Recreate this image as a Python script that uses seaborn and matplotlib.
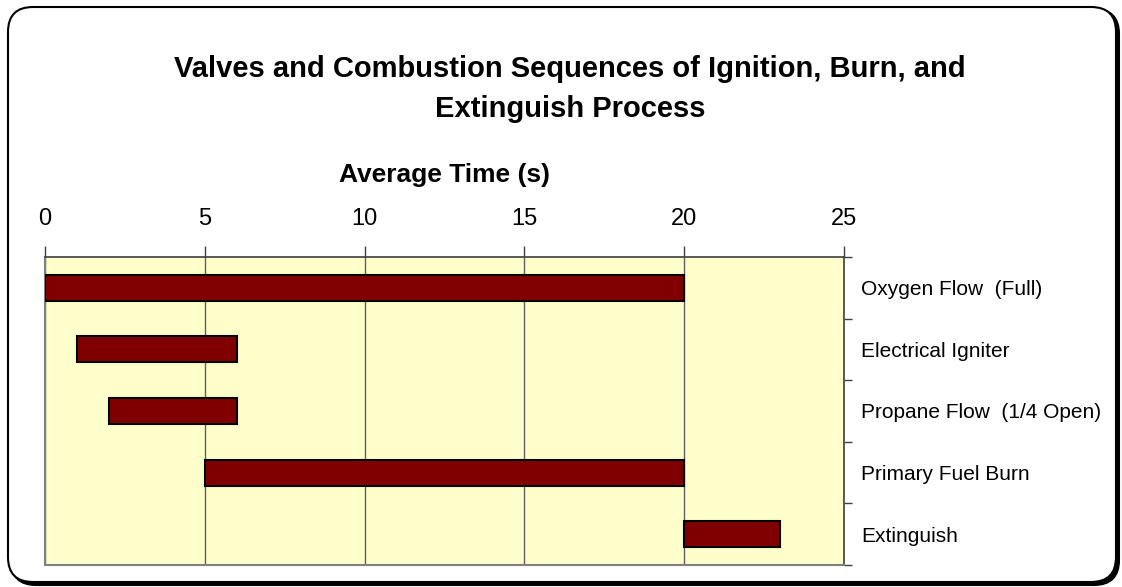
import matplotlib
matplotlib.use("Agg")
import matplotlib.pyplot as plt
import seaborn as sns
import pandas as pd
import numpy as np
from matplotlib.patches import FancyBboxPatch

# ---- data ----
categories = ["Oxygen Flow  (Full)", "Electrical Igniter", "Propane Flow  (1/4 Open)",
              "Primary Fuel Burn", "Extinguish"]
start_times = [0, 1, 2, 5, 20]
end_times = [20, 6, 6, 20, 23]
x_ticks = [0, 5, 10, 15, 20, 25]
title = "Valves and Combustion Sequences of Ignition, Burn, and\nExtinguish Process"
x_label = "Average Time (s)"

sns.set_style("white")
plt.rcParams['font.family'] = ['Liberation Sans', 'DejaVu Sans']
plt.rcParams['text.color'] = 'black'
plt.rcParams['axes.labelcolor'] = 'black'
plt.rcParams['xtick.color'] = 'black'
plt.rcParams['ytick.color'] = 'black'

W, H = 1122, 587
fig = plt.figure(figsize=(W / 100, H / 100), dpi=100)

# rounded border with shadow
shadow = FancyBboxPatch((0.11, 0.02), 11.08, 5.76,
                        boxstyle="round,pad=0,rounding_size=0.25",
                        transform=fig.dpi_scale_trans, fc="black", ec="black",
                        lw=1.5, zorder=-3)
border = FancyBboxPatch((0.08, 0.05), 11.08, 5.75,
                        boxstyle="round,pad=0,rounding_size=0.25",
                        transform=fig.dpi_scale_trans, fc="white", ec="black",
                        lw=1.5, zorder=-2)
fig.patches.extend([shadow, border])

left_px, right_px, top_px, bot_px = 45, 844, 257, 565
ax = fig.add_axes([left_px / W, 1 - bot_px / H, (right_px - left_px) / W, (bot_px - top_px) / H])
ax.set_facecolor("#FFFFCC")

df = pd.DataFrame({"task": categories, "start": start_times, "end": end_times})
df["duration"] = df["end"] - df["start"]

sns.barplot(data=df, x="duration", y="task", orient="h", color="#800000",
            saturation=1, width=0.42, edgecolor="black", linewidth=1.5,
            ax=ax, zorder=3)
for patch, s in zip(ax.patches, df["start"]):
    patch.set_x(s)

ax.set_xlim(x_ticks[0], x_ticks[-1])
ax.set_ylim(len(categories) - 0.5, -0.5)

# x axis on top
ax.xaxis.tick_top()
ax.xaxis.set_label_position("top")
ax.set_xticks(x_ticks)
ax.set_xticklabels([str(t) for t in x_ticks], fontsize=17)
ax.tick_params(axis="x", which="major", top=True, bottom=False, length=8,
               width=1, color="#404040", pad=11.5)
ax.set_xlabel(x_label, fontsize=19, fontweight="bold", labelpad=19)
ax.grid(True, axis="x", color="#606060", lw=1, zorder=1)
ax.set_axisbelow(True)

# y axis on right: boundary ticks + category labels between them
ax.yaxis.tick_right()
ax.set_yticks(np.arange(-0.5, len(categories), 1))
ax.set_yticklabels([])
ax.set_yticks(np.arange(len(categories)), minor=True)
ax.set_yticklabels(categories, minor=True, fontsize=15)
ax.tick_params(axis="y", which="major", right=True, left=False, length=6,
               width=1, color="#404040")
ax.tick_params(axis="y", which="minor", right=True, left=False, length=0, pad=12.5)
ax.set_ylabel("")

for side in ["left", "bottom"]:
    ax.spines[side].set_color("#808080")
    ax.spines[side].set_linewidth(1.5)
for side in ["top", "right"]:
    ax.spines[side].set_color("#404040")
    ax.spines[side].set_linewidth(1.2)

fig.text(570 / W, 1 - 89 / H, title, ha="center", va="center", fontsize=21,
         fontweight="bold", linespacing=1.55)

fig.savefig("out.png", dpi=100)
